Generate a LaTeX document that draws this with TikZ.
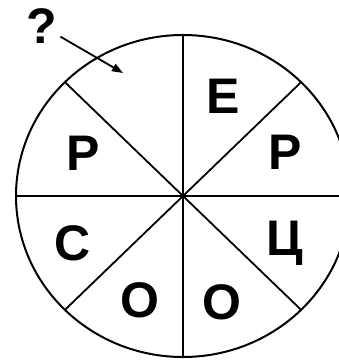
\documentclass[tikz,border=0pt]{standalone}
\usepackage{fontspec}
\setmainfont{Liberation Sans}
\usepackage{tikz}
\usetikzlibrary{arrows.meta}

\begin{document}
\begin{tikzpicture}[
    x=1pt, y=-1pt,
    rim/.style={draw=black, line width=2pt},
    spoke/.style={draw=black, line width=1.8pt},
    letter/.style={font=\fontsize{50}{50}\selectfont\bfseries, inner sep=0pt},
    arr/.style={-{Triangle[length=11pt, width=8pt]}, line width=1.8pt, black}
]
    \useasboundingbox (0,0) rectangle (339,361);

    % === wheel ===
    \coordinate (c) at (183,196);
    \draw[rim] (c) ellipse [x radius=167pt, y radius=161pt];
    \foreach \a in {0,45,...,315}
        \draw[spoke] (c) -- ++(\a:167pt and 161pt);

    % === letters, clockwise from top ===
    \node[letter] (q)  at (42,26)   {?};
    \node[letter] (s1) at (223,96)  {Е};
    \node[letter] (s2) at (285,152) {Р};
    \node[letter] (s3) at (285,243) {Ц};
    \node[letter] (s4) at (222,302) {О};
    \node[letter] (s5) at (140,300) {О};
    \node[letter] (s6) at (73,243)  {С};
    \node[letter] (s7) at (83,153)  {Р};

    % --- pointer into the empty sector ---
    \coordinate (gap) at (123,73);
    \draw[arr] ([shift={(3,-7)}]q.south east) -- (gap);
\end{tikzpicture}
\end{document}
